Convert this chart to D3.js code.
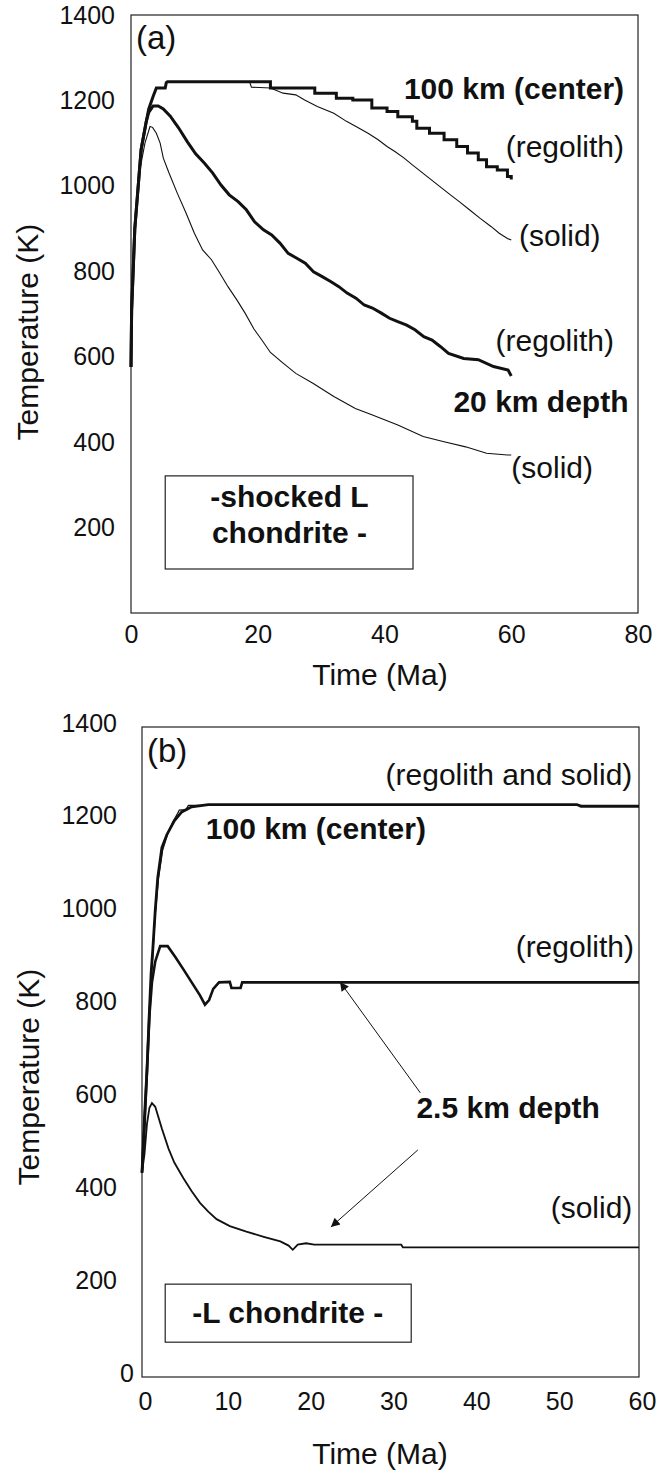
<!DOCTYPE html>
<html>
<head>
<meta charset="utf-8">
<script src="https://cdn.jsdelivr.net/npm/d3@7"></script>
<style>
  body { margin: 0; background: #fff; }
  svg text { font-family: "Liberation Sans", Arial, Helvetica, sans-serif; fill: #111; }
</style>
</head>
<body>
<svg id="chart" width="664" height="1473"></svg>
<script>
// ---- data: [time (Ma), temperature (K)] ----

// panel (a) shocked L chondrite
var a100Regolith = [[0,576],[0.1,709],[0.6,900],[1.3,1030],[1.6,1085],[2.4,1150],[2.8,1180],[3.5,1210],[4.0,1229],[5.4,1229],[5.6,1244],[21.7,1244],[22.0,1229],[28.7,1229],[29.0,1217],[32.4,1205],[35.0,1201],[38.0,1182],[40.4,1174],[42.1,1162],[44.4,1151],[45.1,1135],[47.1,1123],[49.4,1108],[51.4,1092],[53.1,1077],[54.8,1061],[56.1,1045],[57.8,1037],[59.4,1022],[60,1015]];
var a100Solid = [[0,576],[0.1,709],[0.6,900],[1.3,1030],[1.6,1085],[2.4,1150],[2.8,1180],[3.5,1210],[4.0,1229],[5.4,1229],[5.6,1244],[18.7,1244],[19.0,1231],[22.0,1229],[24.0,1217],[26.0,1213],[27.4,1201],[29.4,1186],[32.0,1170],[34.0,1151],[36.0,1135],[37.4,1123],[39.0,1108],[40.4,1092],[41.7,1080],[43.1,1065],[44.4,1049],[45.7,1034],[47.4,1014],[49.1,994],[50.4,979],[51.8,963],[53.4,944],[55.1,924],[56.8,905],[58.1,889],[59.4,877],[60,873]];
var a20Regolith = [[0,576],[0.1,709],[0.6,900],[1.3,1030],[1.6,1085],[2.4,1150],[2.8,1172],[3.5,1187],[4.3,1187],[5.1,1180],[6.2,1163],[7.5,1136],[8.9,1103],[10.2,1075],[11.6,1053],[12.9,1030],[14.2,1002],[15.5,979],[16.9,963],[18.2,944],[19.5,916],[20.9,897],[22.2,885],[23.5,866],[24.8,842],[26.1,831],[27.5,819],[28.8,799],[30.1,788],[31.5,776],[32.8,764],[34.1,749],[35.5,737],[36.8,721],[38.1,714],[39.5,702],[40.8,690],[42.1,682],[43.5,674],[44.8,663],[46.2,647],[47.5,639],[48.8,624],[50.1,608],[52.5,596],[54.8,593],[57.2,577],[59.5,569],[60,555]];
var a20Solid = [[0,576],[0.1,709],[0.6,900],[1.3,1030],[2.2,1100],[3.0,1139],[3.4,1137],[4.0,1123],[4.6,1100],[5.1,1065],[6.0,1030],[7.3,983],[8.7,936],[10.0,889],[11.3,850],[12.7,827],[14.0,796],[15.3,764],[16.7,733],[18.0,702],[19.4,665],[20.7,638],[22.0,610],[24.0,585],[26.0,561],[28.7,538],[32.0,507],[35.4,479],[38.0,464],[42.1,440],[46.1,413],[49.4,401],[52.8,389],[56.1,374],[59.4,370],[60,370]];

// panel (b) L chondrite
var b100Regolith = [[0,440],[0.3,560],[0.6,660],[0.85,770],[1.1,870],[1.3,920],[1.6,1005],[1.9,1075],[2.4,1140],[3.0,1168],[3.9,1198],[4.8,1217],[6.0,1228],[8.0,1233],[52.5,1233],[53.0,1229],[60,1229]];
var b100Solid = [[0,440],[0.3,555],[0.6,650],[0.85,760],[1.1,860],[1.3,905],[1.6,995],[2.0,1075],[2.5,1135],[3.1,1170],[3.7,1195],[4.3,1214],[4.5,1221],[5.3,1222],[5.6,1231],[60,1231]];
var b25Regolith = [[0,440],[0.3,540],[0.6,660],[0.9,780],[1.2,850],[1.6,895],[2.2,928],[3.1,928],[4.0,905],[5.0,878],[6.0,850],[7.0,822],[7.6,802],[8.1,812],[8.6,836],[9.3,850],[10.6,851],[10.8,838],[11.9,838],[12.1,850],[60,850]];
var b25Solid = [[0,440],[0.3,480],[0.6,545],[0.9,580],[1.2,590],[1.6,582],[2.4,535],[3.2,492],[3.9,462],[5.0,428],[6.0,400],[7.0,375],[8.0,356],[9.0,340],[10.6,325],[12.6,313],[14.7,302],[16.7,292],[17.7,283],[18.2,274],[18.8,285],[19.8,288],[20.8,285],[31.3,285],[31.5,279],[60,279]];

// tick values
var xTicksA = [0, 20, 40, 60, 80];
var yTicksA = [200, 400, 600, 800, 1000, 1200, 1400];
var xTicksB = [0, 10, 20, 30, 40, 50, 60];
var yTicksB = [0, 200, 400, 600, 800, 1000, 1200, 1400];

// ---- layout ----
var svg = d3.select("#chart");
var boxA = {left: 131, right: 638, top: 15, bottom: 613};
var boxB = {left: 142, right: 639, top: 727, bottom: 1377};

var xA = d3.scaleLinear().domain([0, 80]).range([boxA.left, boxA.right]);
var yA = d3.scaleLinear().domain([0, 1400]).range([boxA.bottom, boxA.top]);
var xB = d3.scaleLinear().domain([0, 60]).range([boxB.left, boxB.right]);
var yB = d3.scaleLinear().domain([0, 1400]).range([boxB.bottom, boxB.top]);

var fmt = d3.format("d");

// arrow head
svg.append("defs").append("marker")
  .attr("id", "arrow")
  .attr("viewBox", "0 0 10 10")
  .attr("refX", 10).attr("refY", 5)
  .attr("markerUnits", "userSpaceOnUse")
  .attr("markerWidth", 14).attr("markerHeight", 9)
  .attr("orient", "auto")
  .append("path").attr("d", "M0,0L10,5L0,10z").attr("fill", "#111");

function frame(g, b) {
  g.append("rect")
    .attr("x", b.left).attr("y", b.top)
    .attr("width", b.right - b.left).attr("height", b.bottom - b.top)
    .attr("fill", "none").attr("stroke", "#222").attr("stroke-width", 1.2);
}

function styleAxis(g) {
  g.select(".domain").remove();
  g.attr("font-size", 25).attr("font-family", null);
  g.selectAll("text").attr("fill", "#111");
}

function note(g, x, y, txt, anchor, bold, size) {
  return g.append("text")
    .attr("x", x).attr("y", y)
    .attr("text-anchor", anchor || "start")
    .attr("font-weight", bold ? 700 : 400)
    .attr("font-size", size || 30)
    .text(txt);
}

function curve(g, data, xs, ys, width, curveType) {
  var line = d3.line()
    .x(d => xs(d[0]))
    .y(d => ys(d[1]))
    .curve(curveType || d3.curveLinear);
  g.append("path")
    .attr("d", line(data))
    .attr("fill", "none")
    .attr("stroke", "#111")
    .attr("stroke-width", width)
    .attr("stroke-linejoin", "miter");
}

// ================= panel (a) =================
var gA = svg.append("g");

gA.append("g")
  .attr("transform", `translate(${boxA.left},0)`)
  .call(d3.axisLeft(yA).tickValues(yTicksA).tickFormat(fmt).tickSize(0).tickPadding(16))
  .call(styleAxis);

gA.append("g")
  .attr("transform", `translate(0,${boxA.bottom})`)
  .call(d3.axisBottom(xA).tickValues(xTicksA).tickFormat(fmt).tickSize(0).tickPadding(12))
  .call(styleAxis);

frame(gA, boxA);

curve(gA, a100Solid, xA, yA, 1.1);
curve(gA, a20Solid, xA, yA, 1.1);
// centre (regolith): smooth heating, then the stepped cooling of the model output
curve(gA, a100Regolith.filter(d => d[0] <= 5.6), xA, yA, 3);
curve(gA, a100Regolith.filter(d => d[0] >= 5.6), xA, yA, 3, d3.curveStepAfter);
curve(gA, a20Regolith, xA, yA, 3);

note(gA, 136, 49, "(a)", "start", false, 33);
note(gA, xA(77.8), yA(1203), "100 km (center)", "end", true);
note(gA, xA(77.8), yA(1068), "(regolith)", "end");
note(gA, xA(74.1), yA(859), "(solid)", "end");
note(gA, xA(76.2), yA(613), "(regolith)", "end");
note(gA, xA(78.5), yA(471), "20 km depth", "end", true);
note(gA, xA(72.9), yA(316), "(solid)", "end");

gA.append("rect")
  .attr("x", xA(5.4)).attr("y", yA(321))
  .attr("width", xA(44.5) - xA(5.4)).attr("height", yA(103) - yA(321))
  .attr("fill", "#fff").attr("stroke", "#222").attr("stroke-width", 1.2);
note(gA, xA(25), yA(249), "-shocked L", "middle", true);
note(gA, xA(25), yA(164), "chondrite -", "middle", true);

note(gA, 380, 685, "Time (Ma)", "middle");
note(gA, 0, 0, "Temperature (K)", "middle")
  .attr("transform", "translate(38,332) rotate(-90)");

// ================= panel (b) =================
var gB = svg.append("g");

gB.append("g")
  .attr("transform", `translate(${boxB.left},-4)`)
  .call(d3.axisLeft(yB).tickValues(yTicksB).tickFormat(fmt).tickSize(0).tickPadding(25))
  .call(styleAxis)
  .selectAll(".tick text")
  .attr("x", d => d === 0 ? -8 : -25);

gB.append("g")
  .attr("transform", `translate(3,${boxB.bottom})`)
  .call(d3.axisBottom(xB).tickValues(xTicksB).tickFormat(fmt).tickSize(0).tickPadding(15))
  .call(styleAxis);

frame(gB, boxB);

curve(gB, b25Solid, xB, yB, 1.8);
curve(gB, b25Regolith, xB, yB, 2.6);
curve(gB, b100Regolith, xB, yB, 2.8);
curve(gB, b100Solid, xB, yB, 1.2);

note(gB, 147, 762, "(b)", "start", false, 33);
note(gB, xB(59.2), yB(1275), "(regolith and solid)", "end");
note(gB, xB(7.7), yB(1159), "100 km (center)", "start", true);
note(gB, xB(59.4), yB(905), "(regolith)", "end");
note(gB, xB(44.2), yB(558), "2.5 km depth", "middle", true);
note(gB, xB(59.2), yB(342), "(solid)", "end");

// arrows from the "2.5 km depth" label to its two curves
var arrowsB = [[[33.6, 612], [23.9, 851]], [[33.3, 489], [22.8, 323]]];
gB.selectAll(".arrow")
  .data(arrowsB)
  .enter().append("line")
  .attr("class", "arrow")
  .attr("x1", d => xB(d[0][0])).attr("y1", d => yB(d[0][1]))
  .attr("x2", d => xB(d[1][0])).attr("y2", d => yB(d[1][1]))
  .attr("stroke", "#111").attr("stroke-width", 1)
  .attr("marker-end", "url(#arrow)");

gB.append("rect")
  .attr("x", xB(2.8)).attr("y", yB(200))
  .attr("width", xB(32.5) - xB(2.8)).attr("height", yB(75) - yB(200))
  .attr("fill", "#fff").attr("stroke", "#222").attr("stroke-width", 1.2);
note(gB, xB(17.6), yB(116), "-L chondrite -", "middle", true);

note(gB, 380, 1464, "Time (Ma)", "middle");
note(gB, 0, 0, "Temperature (K)", "middle")
  .attr("transform", "translate(39,1077) rotate(-90)");
</script>
</body>
</html>
